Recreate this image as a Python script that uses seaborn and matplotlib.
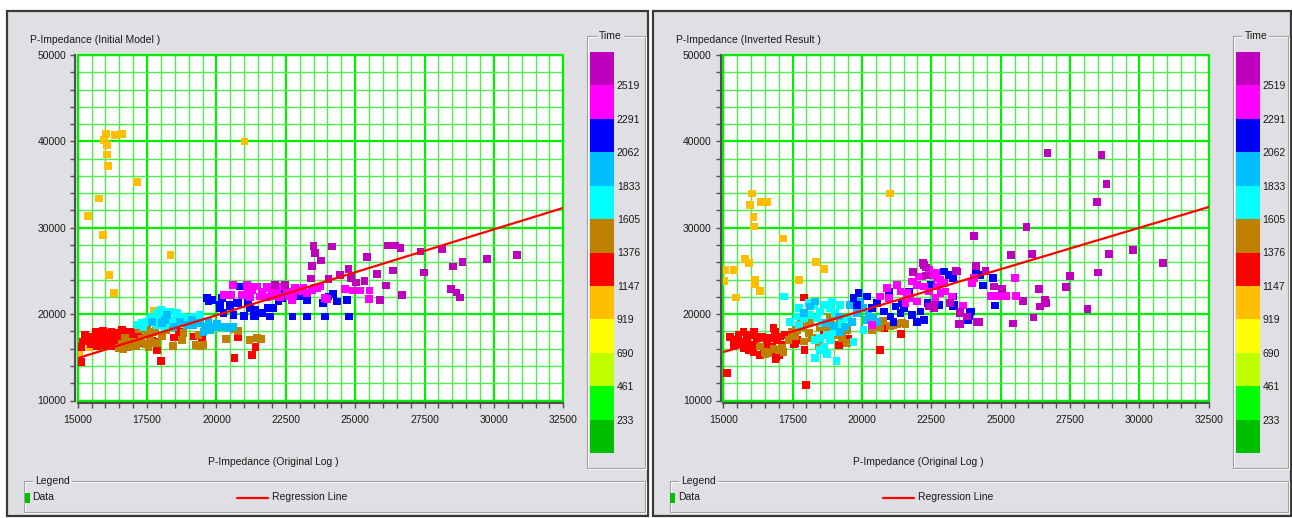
import matplotlib
matplotlib.use("Agg")
import numpy as np
import pandas as pd
import matplotlib.pyplot as plt
import seaborn as sns
from matplotlib.colors import ListedColormap, BoundaryNorm
from matplotlib.cm import ScalarMappable
from matplotlib.patches import Rectangle
from matplotlib.ticker import MultipleLocator

# ---------------------------------------------------------------- colour scale
time_ticks = [233, 461, 690, 919, 1147, 1376, 1605, 1833, 2062, 2291, 2519]
time_edges = [4] + time_ticks + [2748]
band_colors = ["#00BF00", "#00FF00", "#BFFF00", "#FFFF00", "#FFBF00", "#FF0000",
               "#BF7F00", "#00FFFF", "#00BFFF", "#0000FF", "#FF00FF", "#BF00BF"]
band_names = ["b233", "b461", "b690", "b919", "orange", "red",
              "brown", "cyan", "skyblue", "blue", "magenta", "purple"]

# ---------------------------------------------------------------- initial model vs log
initial_orange = [(15950, 40150), (16020, 40870), (16350, 40750), (16600, 40870), (16060, 39580),
                  (16060, 38490), (16090, 37140), (17130, 35320), (15770, 33390), (15380, 31350),
                  (15910, 29150), (21010, 40000), (18340, 26860), (16120, 24510), (16310, 22460),
                  (17730, 20410), (16120, 17280), (15440, 16160), (15040, 15350), (18610, 18870)]
initial_red = [(15200, 16820), (15260, 17590), (15140, 16160), (15120, 14430), (15420, 17100),
               (15480, 16500), (15550, 17400), (15600, 16700), (15650, 17900), (15700, 16300),
               (15720, 17200), (15780, 16900), (15820, 17600), (15880, 16400), (15900, 18100),
               (15950, 17000), (16000, 16600), (16020, 17800), (16080, 16300), (16120, 17300),
               (16180, 16800), (16220, 18000), (16260, 16500), (16300, 17500), (16350, 17100),
               (16380, 16300), (16420, 17800), (16480, 16700), (16520, 17300), (16560, 16900),
               (16600, 18200), (16640, 16500), (16700, 17600), (16740, 17000), (16780, 16400),
               (16820, 17900), (16860, 17300), (16900, 16700), (16950, 17500), (17000, 17900),
               (17050, 16900), (17120, 17400), (17180, 18100), (17250, 17200), (17300, 16600),
               (17700, 16950), (17550, 17650), (17820, 16800), (17870, 15850), (17990, 14610),
               (18460, 17280), (18650, 17970), (19170, 17400), (19470, 17280), (20790, 17280),
               (21410, 16160), (21280, 15270), (20650, 14960)]
initial_brown = [(16500, 16100), (16600, 16500), (16700, 17200), (16800, 16200), (16900, 16400),
                 (17000, 16800), (17100, 16300), (17250, 16700), (17300, 17100), (16640, 16000),
                 (16900, 16650), (17450, 16500), (17500, 17900), (17600, 17300), (17700, 16600),
                 (17800, 18100), (17550, 16200), (17220, 18250), (17490, 18170), (17730, 17970),
                 (17880, 16630), (18170, 18170), (18050, 17400), (18430, 16320), (18750, 17010),
                 (18810, 17790), (19270, 16430), (19350, 17590), (19410, 16350), (19530, 16430),
                 (20350, 17090), (20610, 18290), (20770, 18060), (21190, 17010), (21460, 17210),
                 (21600, 17090)]
initial_cyan = [(17160, 18750), (17490, 19130), (17850, 20100), (18090, 20290), (18330, 20290),
                (18570, 20100), (18750, 19710), (17670, 19710), (17970, 19520), (18210, 19130),
                (18450, 19330), (18930, 19520), (19170, 19710), (19410, 19910), (17370, 18550),
                (18150, 18550), (17850, 18750), (17300, 19000), (18000, 20500), (18600, 19800),
                (17600, 19400), (19000, 19300)]
initial_skyblue = [(18030, 18950), (18690, 19130), (18930, 18750), (19170, 18750), (19410, 18950),
                   (19590, 18550), (19770, 18170), (19530, 17970), (20070, 18490), (20250, 18550),
                   (20490, 18550), (20010, 18870), (19710, 19130), (19110, 19330), (18450, 18550),
                   (18210, 19910), (17670, 19130), (18150, 19330), (19830, 18490), (20430, 18370),
                   (20610, 18550)]
initial_blue = [(19650, 21850), (19830, 21650), (19710, 21450), (20190, 21850), (20130, 21070),
                (20490, 21070), (20730, 21260), (20850, 23190), (21100, 23190), (21150, 21260),
                (21390, 20490), (20610, 19910), (20980, 19790), (21340, 19790), (21640, 20100),
                (21940, 19710), (22000, 23000), (22060, 20690), (22180, 22030), (22420, 22610),
                (22740, 19710), (23260, 19710), (23140, 22030), (23860, 21260), (23910, 19710),
                (24040, 22030), (19770, 21650), (20130, 20690), (20490, 20950), (20250, 20100),
                (20790, 21260), (21210, 20690), (21390, 19790), (21870, 20690), (22240, 21450),
                (22360, 21870), (22960, 22030), (23260, 21650), (24790, 19710), (23820, 21260),
                (24190, 22340), (24340, 21450), (24700, 21650)]
initial_magenta = [(20590, 23380), (20250, 22230), (20520, 22230), (21100, 23380), (21280, 22810),
                   (21460, 23190), (21640, 22610), (21820, 23190), (22000, 22810), (22180, 22420),
                   (22360, 23190), (22540, 22610), (22600, 22030), (22780, 22230), (22960, 22810),
                   (23140, 23000), (23260, 22420), (23440, 22810), (23620, 23000), (21580, 22030),
                   (21210, 21950), (21820, 21950), (22300, 21950), (22720, 21650), (20910, 22230),
                   (21150, 22810), (21390, 23190), (21870, 23000), (22110, 22030), (22840, 23000),
                   (23080, 22610), (23560, 23000), (23740, 23190), (23920, 21850), (23980, 21760),
                   (24640, 22890), (24900, 22730), (25180, 22730), (25520, 22730), (25510, 21760)]
initial_purple = [(23500, 27900), (23560, 27060), (23760, 26200), (24160, 27830), (23440, 25590),
                  (23400, 24120), (24040, 24050), (24440, 24550), (24760, 25210), (24850, 24160),
                  (25030, 23650), (25340, 23850), (25420, 26600), (25780, 24660), (26110, 23300),
                  (26350, 25040), (25900, 21650), (26690, 22230), (26170, 27940), (26450, 27940),
                  (26630, 27640), (27350, 27250), (27490, 24810), (28130, 27520), (28530, 25510),
                  (28870, 26020), (29750, 26400), (30840, 26860), (28450, 22920), (28650, 22500),
                  (28790, 21910), (22480, 23380), (22120, 23380)]

# ---------------------------------------------------------------- inverted result vs log
inverted_orange = [(16050, 33970), (15970, 32620), (16360, 33010), (16590, 33010), (16090, 31230),
                   (16110, 30150), (17150, 28750), (21020, 33970), (15790, 26400), (15940, 25900),
                   (15070, 25130), (15400, 25130), (16150, 23970), (16150, 23470), (16330, 22690),
                   (15470, 21920), (15040, 23850), (18350, 26020), (18640, 25210), (17740, 23970)]
inverted_red = [(15250, 17330), (15370, 16240), (15550, 17590), (15650, 16800), (15730, 17970),
                (15730, 16050), (15850, 17010), (15970, 17590), (16030, 16430), (16090, 15650),
                (16210, 17210), (16270, 16240), (16390, 17400), (16450, 15650), (16570, 16820),
                (16690, 17210), (16750, 16240), (16870, 17970), (16930, 17010), (17050, 17400),
                (17110, 16430), (17230, 17590), (15910, 15850), (15500, 16600), (16330, 15270),
                (16880, 14810), (17000, 15270), (15140, 13150), (17990, 11800), (17900, 21920),
                (20660, 15850), (21420, 17670), (20810, 18370), (18470, 17130), (18640, 17670),
                (19180, 16430), (19490, 17130), (17540, 16510), (17930, 15850), (17660, 17010),
                (16810, 18370), (17600, 16630), (16910, 15000), (16100, 17900), (16500, 16000),
                (15400, 17000)]
inverted_brown = [(16630, 15470), (16990, 15850), (17170, 15650), (17350, 17010), (17470, 17970),
                  (17660, 18170), (17840, 18550), (18020, 19530), (18140, 19130), (17900, 16820),
                  (18080, 17790), (18440, 16430), (18500, 18550), (18850, 19530), (19210, 18950),
                  (19270, 17210), (19450, 16630), (19450, 18170), (20350, 18170), (20770, 19210),
                  (21130, 18670), (21440, 18950), (21570, 18830), (16330, 16240), (16510, 15650),
                  (16810, 15970), (17610, 17400), (17790, 19130), (18210, 17210), (18740, 18370),
                  (19040, 17590), (20540, 18550), (16520, 15390), (17110, 16050), (18080, 19210),
                  (17720, 18550), (18610, 18480), (20660, 18480), (21020, 18640), (21260, 18870)]
inverted_cyan = [(17180, 22030), (17740, 20690), (17420, 19130), (17660, 19710), (17900, 19520),
                 (18140, 19910), (18380, 19520), (18500, 20290), (18680, 21070), (18920, 21450),
                 (18860, 20690), (19040, 20100), (18260, 21070), (18080, 21260), (18320, 17010),
                 (18500, 17210), (18740, 17590), (18980, 17970), (19100, 18550), (18860, 17010),
                 (18620, 16240), (18740, 15360), (18320, 14890), (19080, 14580), (19700, 16750),
                 (17720, 18750), (19270, 19330), (19510, 19520), (18560, 18950), (19210, 21070),
                 (20060, 18170), (18500, 15850)]
inverted_skyblue = [(19580, 21070), (19940, 21450), (19820, 20100), (20060, 20690), (20240, 19910),
                    (20420, 19520), (20540, 19130), (19640, 19130), (19400, 18550), (19210, 17970),
                    (18140, 20870), (18320, 21450), (17900, 20100), (19160, 19710), (20360, 18950),
                    (20180, 19330), (18700, 19000), (19000, 18600)]
inverted_blue = [(19700, 21850), (19880, 22420), (20180, 22030), (19820, 21070), (20360, 20690),
                 (20540, 21260), (20790, 20290), (20970, 22610), (21030, 19710), (21210, 20870),
                 (21390, 20100), (21450, 21260), (21690, 22610), (21810, 19910), (21990, 19130),
                 (22110, 20290), (22240, 19330), (22360, 21260), (22480, 23380), (22780, 21070),
                 (22960, 24930), (23140, 24550), (23270, 24160), (23320, 21070), (23860, 19710),
                 (23920, 20290), (24100, 25130), (21510, 20690), (21140, 19130), (24260, 24550),
                 (24720, 24160), (24360, 23310), (24800, 20990), (23900, 20220), (23820, 19330),
                 (23280, 22030), (23280, 20870), (22730, 20990)]
inverted_magenta = [(20660, 22030), (20360, 18750), (21260, 23310), (21860, 23770), (22040, 24350),
                    (22240, 23190), (22420, 22610), (22710, 23190), (22830, 23970), (23010, 22610),
                    (22650, 21850), (21990, 21450), (21750, 21850), (21570, 21260), (24030, 24160),
                    (23970, 23580), (22420, 25130), (22660, 24740), (21390, 22610), (20970, 21850),
                    (21260, 23380), (21620, 22420), (21810, 23770), (21990, 23380), (22170, 24350),
                    (22530, 24550), (22710, 24160), (22950, 23580), (22830, 22420), (23250, 22030),
                    (25510, 24160), (24650, 22110), (24900, 22110), (25200, 22110), (25560, 22110),
                    (23630, 20990), (20900, 23000)]
inverted_purple = [(26690, 38650), (28630, 38450), (28810, 35060), (28470, 33010), (25930, 30110),
                   (24050, 29030), (25370, 26830), (26120, 26980), (28900, 26980), (29780, 27410),
                   (30850, 25900), (28520, 24810), (27500, 24390), (27360, 23150), (26370, 22890),
                   (25800, 21500), (26580, 21500), (26640, 21260), (26420, 20870), (26180, 19600),
                   (28130, 20570), (25450, 18900), (24210, 19060), (23550, 18830), (23520, 20110),
                   (24770, 23200), (25050, 22890), (24450, 25010), (23400, 25010), (24120, 25590),
                   (22230, 25700), (22320, 24470), (22200, 25900), (22320, 25390), (21840, 24860),
                   (23440, 24930), (23180, 21260), (23550, 20290), (24150, 19130), (23790, 19710),
                   (23490, 18830), (22400, 20870), (22590, 20680), (22590, 21070), (26610, 21650)]

# regression line end points (x range of the plot)
reg_x = [15000, 32500]
initial_reg_y = [14900, 32300]
inverted_reg_y = [15600, 32400]

panel_titles = ["P-Impedance (Initial Model )", "P-Impedance (Inverted Result )"]
x_title = "P-Impedance (Original Log )"


def frame_of(groups):
    parts = []
    for name, pts in groups:
        arr = np.array(pts, dtype=float)
        parts.append(pd.DataFrame({"log": arr[:, 0], "imp": arr[:, 1], "band": name}))
    return pd.concat(parts, ignore_index=True)


initial_df = frame_of([("orange", initial_orange), ("red", initial_red), ("brown", initial_brown),
                       ("cyan", initial_cyan), ("skyblue", initial_skyblue), ("blue", initial_blue),
                       ("magenta", initial_magenta), ("purple", initial_purple)])
inverted_df = frame_of([("orange", inverted_orange), ("red", inverted_red), ("brown", inverted_brown),
                        ("cyan", inverted_cyan), ("skyblue", inverted_skyblue), ("blue", inverted_blue),
                        ("magenta", inverted_magenta), ("purple", inverted_purple)])

palette = dict(zip(band_names, band_colors))

# ---------------------------------------------------------------- figure
sns.set_theme(style="white")
plt.rcParams["font.family"] = ["Liberation Sans", "DejaVu Sans"]
FS = 7.5
TXT = "#1A1A1A"
PANEL = "#E0DFE3"
GREEN_MAJ = "#00F000"
GREEN_MIN = "#50EC50"

W, H = 1292, 518
fig = plt.figure(figsize=(W / 100, H / 100), dpi=100, facecolor="white")
bg = fig.add_axes([0, 0, 1, 1], zorder=-10)
bg.set_xlim(0, W)
bg.set_ylim(H, 0)
bg.axis("off")


def group_box(x0, y0, x1, y1, title, tx):
    bg.add_patch(Rectangle((x0 + 1, y0 + 1), x1 - x0, y1 - y0, fill=False, edgecolor="white", lw=0.8))
    bg.add_patch(Rectangle((x0, y0), x1 - x0, y1 - y0, fill=False, edgecolor="#A0A0A0", lw=0.8))
    bg.text(tx, y0, title, fontsize=FS, color=TXT, ha="left", va="center",
            bbox=dict(facecolor=PANEL, edgecolor="none", pad=1.5))


def draw_panel(dx, x_right, df, reg_y, title):
    # window body
    bg.add_patch(Rectangle((dx + 7, 11), x_right - (dx + 7), 505, facecolor=PANEL,
                           edgecolor="#3A3A3A", lw=1.6))
    bg.text(dx + 30, 40, title, fontsize=FS, color=TXT, ha="left", va="center")
    bg.text(dx + 273, 462, x_title, fontsize=FS, color=TXT, ha="center", va="center")

    # colour bar group
    group_box(dx + 587, 36, x_right - 3, 468, "Time", dx + 599)
    # legend group
    group_box(dx + 24, 481, x_right - 3, 512, "Legend", dx + 35.5)
    bg.add_patch(Rectangle((dx + 24.5, 492.5), 5, 10, facecolor="#00C000", edgecolor="none"))
    bg.text(dx + 32.5, 497.5, "Data", fontsize=FS, color=TXT, ha="left", va="center")
    bg.plot([dx + 237, dx + 268], [497.5, 497.5], color="#FF0000", lw=1.6)
    bg.text(dx + 272, 497.5, "Regression Line", fontsize=FS, color=TXT, ha="left", va="center")

    # scatter axes
    ax = fig.add_axes([(dx + 77.7) / W, 1 - 400.5 / H, 485.6 / W, 345.5 / H])
    ax.set_facecolor("white")
    ax.set_xlim(15000, 32500)
    ax.set_ylim(10000, 50000)
    ax.xaxis.set_major_locator(MultipleLocator(2500))
    ax.xaxis.set_minor_locator(MultipleLocator(500))
    ax.yaxis.set_major_locator(MultipleLocator(10000))
    ax.yaxis.set_minor_locator(MultipleLocator(2000))
    ax.grid(which="major", color=GREEN_MAJ, lw=1.6)
    ax.grid(which="minor", color=GREEN_MIN, lw=1.0)
    ax.set_axisbelow(True)
    for v in (15000, 32500):
        ax.axvline(v, color=GREEN_MAJ, lw=1.6, clip_on=False, zorder=0.8)
    for v in (10000, 50000):
        ax.axhline(v, color=GREEN_MAJ, lw=1.6, clip_on=False, zorder=0.8)
    for s in ("top", "right"):
        ax.spines[s].set_visible(False)
    for s in ("left", "bottom"):
        ax.spines[s].set_color("#505050")
        ax.spines[s].set_linewidth(1.5)
        ax.spines[s].set_position(("outward", 1.8))
    ax.tick_params(which="both", direction="out", color="#505050", width=1.0, length=3.5,
                   labelsize=FS, labelcolor=TXT, bottom=True, left=True)
    ax.tick_params(axis="x", which="both", pad=5)
    ax.tick_params(axis="y", which="both", pad=3)

    sns.scatterplot(data=df, x="log", y="imp", hue="band", palette=palette, marker="s",
                    s=31, linewidth=0, legend=False, ax=ax, zorder=3)
    ax.plot(reg_x, reg_y, color="#FF0000", lw=1.6, zorder=4)
    ax.set_xlabel("")
    ax.set_ylabel("")

    # colour bar
    cax = fig.add_axes([(dx + 590) / W, 1 - 453 / H, 24 / W, 401 / H])
    cmap = ListedColormap(band_colors)
    norm = BoundaryNorm(time_edges, cmap.N)
    cb = fig.colorbar(ScalarMappable(norm=norm, cmap=cmap), cax=cax, ticks=time_ticks,
                      spacing="uniform")
    cb.outline.set_visible(False)
    cb.minorticks_off()
    cax.tick_params(which="both", length=0, pad=2, labelsize=FS, labelcolor=TXT,
                    left=False, right=True)
    return ax


draw_panel(0, 648, initial_df, initial_reg_y, panel_titles[0])
draw_panel(645.5, 1291, inverted_df, inverted_reg_y, panel_titles[1])

fig.savefig("out.png", dpi=100, facecolor="white")
